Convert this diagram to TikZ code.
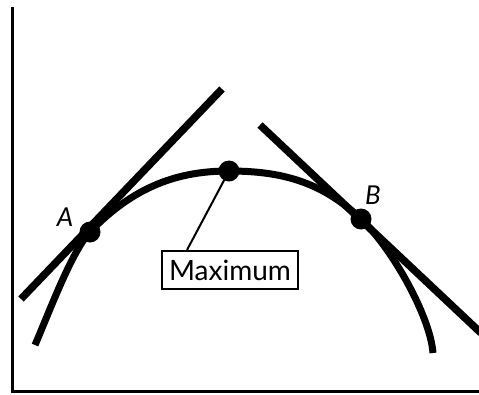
\documentclass[tikz,border=0pt]{standalone}
\usepackage{fontspec}
\setmainfont{Lato}
\usetikzlibrary{positioning}

\begin{document}
\begin{tikzpicture}[x=1pt, y=-1pt,
    curve/.style={line width=7pt},
    tangent/.style={line width=7.5pt},
    dot/.style={circle, fill=black, inner sep=0pt, minimum size=21pt},
    lblbox/.style={draw, line width=2pt, minimum width=136pt, minimum height=38pt, inner sep=0pt, font=\fontsize{28}{32}\selectfont},
    ptlabel/.style={font=\fontsize{26}{30}\selectfont\itshape}]
        \useasboundingbox (0,0) rectangle (479,394);
        % axes
        \coordinate (top) at (12,7);
        \coordinate (origin) at (12,391);
        \coordinate (right) at (479,391);
        \draw[line width=3pt] (top) -- (origin) -- (right);
        % points on the curve
        \coordinate (s) at (35,345);
        \coordinate (a) at (90,232);
        \coordinate (mx) at (229,171);
        \coordinate (b) at (361,219);
        \coordinate (e) at (433,353);
        \draw[curve] (s) .. controls (50,310) and (72,251) .. (a)
            .. controls (135,185) and (180,171) .. (mx)
            .. controls (280,171) and (321,181) .. (b)
            .. controls (391,247) and (430,315) .. (e);
        % tangents at A and B
        \coordinate (ta1) at (21,299);
        \coordinate (ta2) at (222,89);
        \coordinate (tb1) at (260,125);
        \coordinate (tb2) at (481,333);
        \begin{scope}
            \clip (0,0) rectangle (479,394);
            \draw[tangent] (ta1) -- (ta2);
            \draw[tangent] (tb1) -- (tb2);
        \end{scope}
        % label
        \node[lblbox] (lbl) at (230,270) {Maximum};
        \coordinate (pin) at ([xshift=-43pt]lbl.north);
        \draw[line width=2pt] (mx) -- (pin);
        \node[dot] (da) at (a) {};
        \node[dot] (dm) at (mx) {};
        \node[dot] (db) at (b) {};
        \node[ptlabel] (la) at (65,217) {A};
        \node[ptlabel] (lb) at (373,195) {B};
      \end{tikzpicture}
\end{document}
